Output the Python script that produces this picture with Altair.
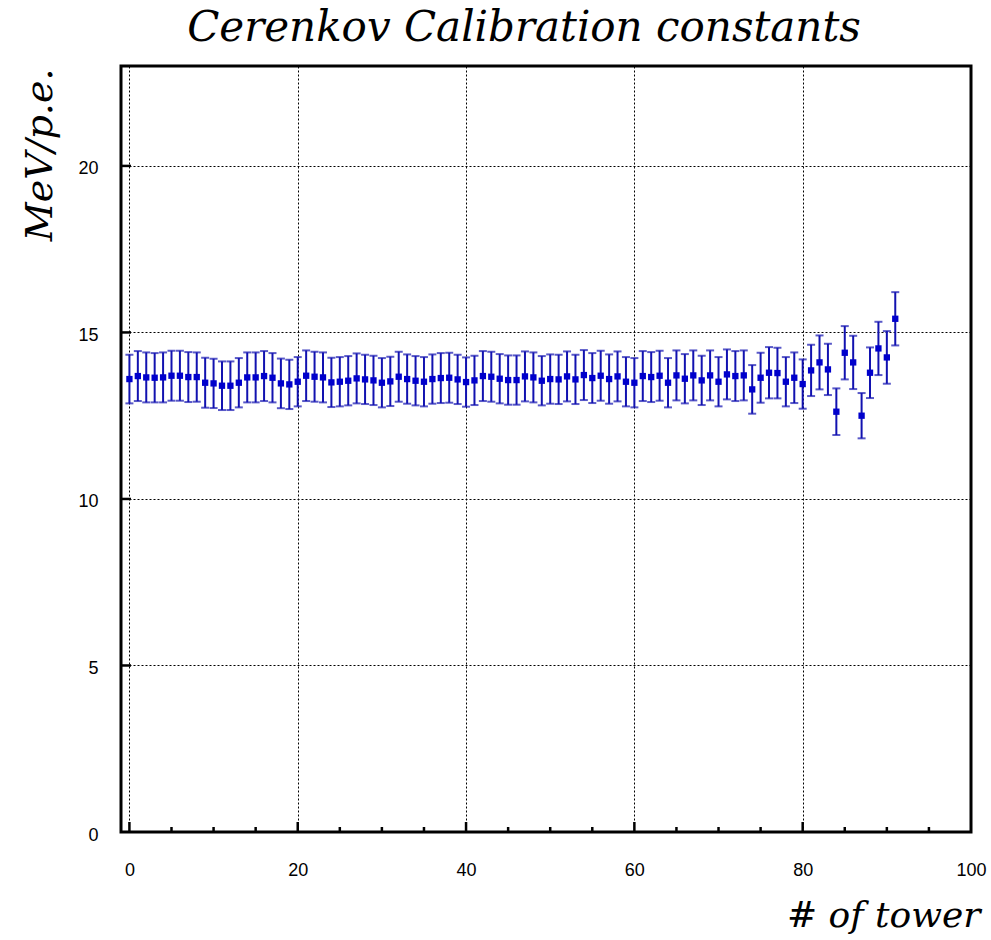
import altair as alt
import pandas as pd

towers = list(range(92))
values = [
    13.60, 13.69, 13.65, 13.64, 13.65, 13.70, 13.70, 13.66, 13.66, 13.49,
    13.47, 13.40, 13.40, 13.49, 13.65, 13.65, 13.69, 13.64, 13.47, 13.44,
    13.52, 13.70, 13.67, 13.65, 13.50, 13.52, 13.55, 13.62, 13.59, 13.56,
    13.49, 13.53, 13.67, 13.60, 13.55, 13.52, 13.60, 13.63, 13.64, 13.59,
    13.51, 13.56, 13.69, 13.67, 13.61, 13.57, 13.57, 13.68, 13.65, 13.55,
    13.60, 13.59, 13.68, 13.59, 13.72, 13.63, 13.70, 13.60, 13.68, 13.52,
    13.49, 13.69, 13.66, 13.70, 13.49, 13.71, 13.61, 13.71, 13.56, 13.71,
    13.52, 13.74, 13.69, 13.71, 13.29, 13.64, 13.79, 13.78, 13.52, 13.64,
    13.45, 13.86, 14.10, 13.89, 12.62, 14.39, 14.10, 12.50, 13.79, 14.52,
    14.25, 15.41,
]
errors = [
    0.73, 0.75, 0.75, 0.74, 0.75, 0.75, 0.75, 0.75, 0.74, 0.75,
    0.74, 0.73, 0.73, 0.74, 0.75, 0.75, 0.75, 0.74, 0.745, 0.74,
    0.74, 0.76, 0.75, 0.75, 0.74, 0.74, 0.74, 0.75, 0.74, 0.74,
    0.74, 0.74, 0.75, 0.74, 0.74, 0.74, 0.74, 0.75, 0.75, 0.74,
    0.74, 0.74, 0.75, 0.75, 0.74, 0.74, 0.74, 0.75, 0.75, 0.74,
    0.74, 0.74, 0.75, 0.74, 0.75, 0.75, 0.75, 0.74, 0.75, 0.74,
    0.74, 0.75, 0.75, 0.75, 0.74, 0.75, 0.74, 0.75, 0.74, 0.75,
    0.74, 0.75, 0.75, 0.75, 0.73, 0.75, 0.77, 0.76, 0.74, 0.76,
    0.74, 0.77, 0.81, 0.77, 0.70, 0.80, 0.80, 0.68, 0.76, 0.80,
    0.79, 0.80,
]

x_grid_values = [0, 20, 40, 60, 80, 100]
y_grid_values = [0, 5, 10, 15, 20]
x_major_ticks = [0, 20, 40, 60, 80]
x_minor_ticks = [5, 10, 15, 25, 30, 35, 45, 50, 55, 65, 70, 75, 85, 90, 95]
y_major_ticks = [5, 10, 15, 20]

df = pd.DataFrame({"tower": towers, "value": values, "err": errors})
df["lo"] = df["value"] - df["err"]
df["hi"] = df["value"] + df["err"]

W, H = 850, 766
xscale = alt.Scale(domain=[-1, 100], nice=False, zero=False)
yscale = alt.Scale(domain=[0, 23], nice=False, zero=False)

x_axis = alt.Axis(
    values=x_grid_values, grid=True, ticks=False, domain=False,
    labelFont="Liberation Sans", labelFontSize=18, labelColor="black",
    labelPadding=29, gridColor="black", gridDash=[2, 2], gridWidth=1,
    gridOpacity=1, title="# of tower", titleFont="DejaVu Serif",
    titleFontStyle="italic", titleFontWeight="normal", titleFontSize=36,
    titleColor="black", titleAnchor="end", titleAlign="right",
    titleBaseline="alphabetic", titleX=859, titleY=94, labelFlush=False,
)
y_axis = alt.Axis(
    values=y_grid_values, grid=True, ticks=False, domain=False,
    labelFont="Liberation Sans", labelFontSize=18, labelColor="black",
    labelPadding=23, labelOffset=3, gridColor="black", gridDash=[2, 2],
    gridWidth=1, gridOpacity=1, title="MeV/p.e.", titleFont="DejaVu Serif",
    titleFontStyle="italic", titleFontWeight="normal", titleFontSize=38,
    titleColor="black", titleAngle=-90, titleAlign="right",
    titleBaseline="middle", titleX=-81, titleY=2, labelFlush=False,
)


def X(field):
    return alt.X(field, scale=xscale, axis=x_axis)


def Y(field):
    return alt.Y(field, scale=yscale, axis=y_axis)


base = alt.Chart(df)
BAR = "#1212b0"

err_rule = base.mark_rule(color=BAR, strokeWidth=2).encode(
    x=X("tower:Q"), y=Y("lo:Q"), y2="hi:Q",
)
cap_lo = base.mark_tick(color=BAR, orient="horizontal", size=8, thickness=2).encode(
    x=X("tower:Q"), y=Y("lo:Q"),
)
cap_hi = base.mark_tick(color=BAR, orient="horizontal", size=8, thickness=2).encode(
    x=X("tower:Q"), y=Y("hi:Q"),
)
points = base.mark_square(color="#0000cc", size=40, opacity=1).encode(
    x=X("tower:Q"), y=Y("value:Q"),
)

xmaj = alt.Chart(pd.DataFrame({"t": x_major_ticks})).mark_rule(color="black", strokeWidth=2.5).encode(
    x=X("t:Q"), y=alt.value(H), y2=alt.value(H - 10),
)
xmin = alt.Chart(pd.DataFrame({"t": x_minor_ticks})).mark_rule(color="black", strokeWidth=2.5).encode(
    x=X("t:Q"), y=alt.value(H), y2=alt.value(H - 5),
)
ymaj = alt.Chart(pd.DataFrame({"t": y_major_ticks})).mark_rule(color="black", strokeWidth=2.5).encode(
    y=Y("t:Q"), x=alt.value(0), x2=alt.value(10),
)

chart = alt.layer(err_rule, cap_lo, cap_hi, points, xmaj, xmin, ymaj).properties(
    width=W, height=H,
    title=alt.TitleParams(
        "Cerenkov Calibration constants", font="DejaVu Serif", fontStyle="italic",
        fontWeight="normal", fontSize=42, color="black", anchor="middle",
        frame="group", dx=-22, offset=16,
    ),
    autosize=alt.AutoSizeParams(type="none"),
    padding={"left": 121, "top": 66, "right": 20, "bottom": 108},
    background="white",
).configure_view(stroke="black", strokeWidth=3)

chart.save("out.html", embed_options={"renderer": "svg", "actions": False})
